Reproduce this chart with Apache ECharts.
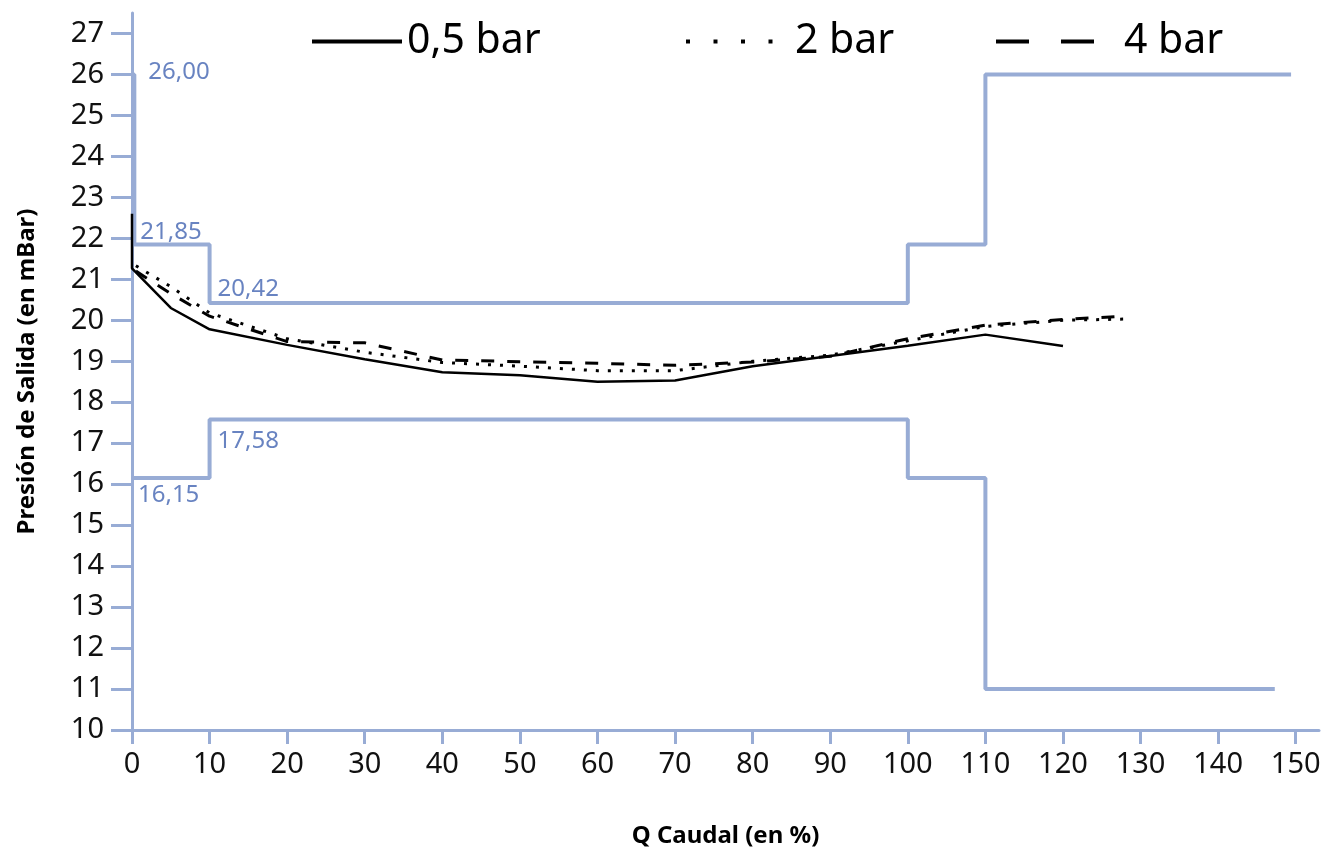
<!DOCTYPE html>
<html>
<head>
<meta charset="utf-8">
<script src="https://cdn.jsdelivr.net/npm/echarts@6.0.0/dist/echarts.min.js"></script>
<style>html,body{margin:0;padding:0;background:#fff;}#c{width:1325px;height:852px;}</style>
</head>
<body>
<div id="c"></div>
<script>
// ---- data ----
const xTicks = [0,10,20,30,40,50,60,70,80,90,100,110,120,130,140,150];
const yTicks = [10,11,12,13,14,15,16,17,18,19,20,21,22,23,24,25,26,27];

const s05X = [0,0,5,10,20,30,40,50,60,70,80,90,100,110,120];
const s05Y = [22.6,21.27,20.3,19.78,19.4,19.05,18.73,18.66,18.5,18.53,18.88,19.13,19.38,19.65,19.37];

const s2X = [0.5,5,10,20,30,40,50,60,70,80,90,100,110,120,128];
const s2Y = [21.33,20.82,20.18,19.55,19.22,18.97,18.88,18.77,18.77,19.0,19.15,19.5,19.85,20.0,20.03];

const s4X = [0.5,5,10,20,30,40,50,60,70,80,90,100,110,120,128];
const s4Y = [21.2,20.65,20.1,19.48,19.45,19.03,18.99,18.95,18.9,18.98,19.12,19.55,19.88,20.02,20.1];

const upX = [0,0.3,0.3,10,10,100,100,110,110,149.4];
const upY = [26,26,21.85,21.85,20.42,20.42,21.85,21.85,26,26];
const loX = [0,10,10,100,100,110,110,147.3];
const loY = [16.15,16.15,17.58,17.58,16.15,16.15,11,11];

const limitLabels = ['26,00','21,85','20,42','17,58','16,15'];
const limitLabelX = [0.3,0.3,10,10,0];
const limitLabelY = [26,21.85,20.42,17.58,16.15];

const seriesNames = ['0,5 bar','2 bar','4 bar'];

// ---- styles ----
const FONT = 'Noto Sans';
const BLUE = '#98acd5';
const BLUE_TXT = '#4264b2';
const labelOffsets = [[9,-2],[1,-12],[3,-14],[3,22],[1,17]];

const zip = (xs, ys) => xs.map((x,i) => [x, ys[i]]);
const hiddenSymbol = {color: 'rgba(0,0,0,0)', borderWidth: 0, borderColor: 'rgba(0,0,0,0)'};

const option = {
  animation: false,
  grid: {left: 132, right: 6, top: 13, bottom: 122, containLabel: false, outerBoundsMode: 'none'},
  xAxis: {
    type: 'value', min: 0, max: 153,
    name: 'Q Caudal (en %)', nameLocation: 'middle', nameGap: 94,
    nameTextStyle: {fontFamily: FONT, fontWeight: 'bold', fontSize: 24, color: '#000'},
    axisLine: {show: true, lineStyle: {color: BLUE, width: 3}},
    axisTick: {show: true, length: 14, lineStyle: {color: BLUE, width: 3}, customValues: xTicks},
    axisLabel: {customValues: xTicks, margin: 20, fontFamily: FONT, fontSize: 29, color: '#111'},
    splitLine: {show: false}
  },
  yAxis: {
    type: 'value', min: 10, max: 27.5,
    name: 'Presión de Salida (en mBar)', nameLocation: 'middle', nameGap: 93,
    nameRotate: 90,
    nameTextStyle: {fontFamily: FONT, fontWeight: 'bold', fontSize: 24, color: '#000'},
    axisLine: {show: true, lineStyle: {color: BLUE, width: 3}},
    axisTick: {show: true, length: 21, lineStyle: {color: BLUE, width: 3}, customValues: yTicks},
    axisLabel: {customValues: yTicks, margin: 28, fontFamily: FONT, fontSize: 29, color: '#111'},
    splitLine: {show: false}
  },
  legend: [
    {data: [seriesNames[0]], left: 305, top: 16, itemWidth: 90, itemHeight: 20,
     textStyle: {fontFamily: FONT, fontSize: 41, color: '#000', padding: [0,0,0,0]},
     itemStyle: hiddenSymbol, lineStyle: {width: 4, type: 'solid'}},
    {data: [seriesNames[1]], left: 679, top: 16, itemWidth: 91, itemHeight: 20,
     textStyle: {fontFamily: FONT, fontSize: 41, color: '#000', padding: [0,0,0,13]},
     itemStyle: hiddenSymbol, lineStyle: {width: 4, type: [4,23.5]}},
    {data: [seriesNames[2]], left: 989, top: 16, itemWidth: 106, itemHeight: 20,
     textStyle: {fontFamily: FONT, fontSize: 41, color: '#000', padding: [0,0,0,17]},
     itemStyle: hiddenSymbol, lineStyle: {width: 4, type: [33,32]}}
  ],
  series: [
    {type: 'line', name: 'upper', data: zip(upX, upY), symbol: 'none', silent: true, z: 2,
     lineStyle: {color: BLUE, width: 4}},
    {type: 'line', name: 'lower', data: zip(loX, loY), symbol: 'none', silent: true, z: 2,
     lineStyle: {color: BLUE, width: 4}},
    {type: 'scatter', name: 'limits', symbolSize: 0, silent: true, z: 3,
     data: limitLabels.map((t,i) => ({
       value: [limitLabelX[i], limitLabelY[i]], name: t,
       label: {show: true, position: 'right', distance: 5, offset: labelOffsets[i],
               formatter: t, fontFamily: FONT, fontSize: 24, color: BLUE_TXT}
     }))},
    {type: 'line', name: seriesNames[0], data: zip(s05X, s05Y), symbol: 'none', z: 5,
     lineStyle: {color: '#000', width: 2.5, type: 'solid'}, itemStyle: {color: '#000'}},
    {type: 'line', name: seriesNames[1], data: zip(s2X, s2Y), symbol: 'none', z: 5,
     lineStyle: {color: '#000', width: 3, type: [3,9]}, itemStyle: {color: '#000'}},
    {type: 'line', name: seriesNames[2], data: zip(s4X, s4Y), symbol: 'none', z: 5,
     lineStyle: {color: '#000', width: 3, type: [13,13]}, itemStyle: {color: '#000'}}
  ]
};

const chart = echarts.init(document.getElementById('c'), null, {renderer: 'canvas'});
chart.setOption(option);
</script>
</body>
</html>
